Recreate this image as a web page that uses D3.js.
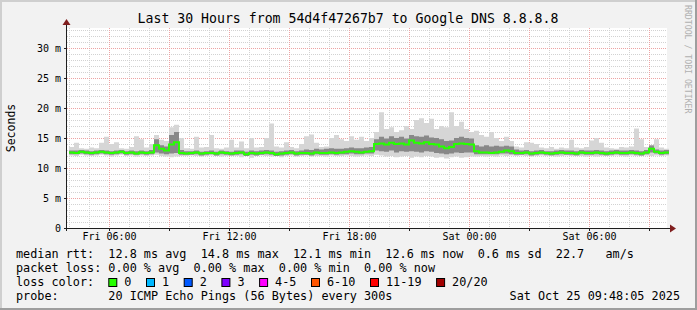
<!DOCTYPE html>
<html><head><meta charset="utf-8">
<script src="https://cdn.jsdelivr.net/npm/d3@7"></script>
<style>
body{margin:0;background:#f2f2f2}
svg{display:block}
text{font-family:"DejaVu Sans Mono",monospace;white-space:pre}
</style>
</head><body><svg id="c" width="697" height="310"></svg>
<script>
// ---------- data ----------
const title = "Last 30 Hours from 54d4f47267b7 to Google DNS 8.8.8.8";
const yLabel = "Seconds";
const watermark = "RRDTOOL / TOBI OETIKER";
const rangeStart = new Date(2025, 9, 24, 3, 54);
const rangeEnd = new Date(2025, 9, 25, 9, 54);
const dataStart = new Date(2025, 9, 24, 4, 0);
const stepMinutes = 15;

// median rtt (ms), one value per 15 minutes from Fri 04:00
const median = [
12.6,12.5,12.7,12.6,12.5,12.6,12.7,12.6,12.5,12.6,12.7,12.5,12.6,12.4,12.6,12.5,12.6,
13.8,13.2,12.9,13.9,14.3,12.5,
12.4,12.5,12.6,12.4,12.5,12.5,12.4,12.6,12.5,12.4,12.5,12.6,12.3,12.5,12.4,12.5,12.6,12.5,12.3,12.4,12.5,12.6,12.4,12.5,12.5,12.4,12.6,12.5,12.5,12.6,12.5,
12.6,12.7,12.8,12.7,12.6,12.7,12.8,
14.0,14.1,13.9,14.2,14.0,14.1,13.9,14.6,14.2,14.1,14.3,14.0,13.9,13.6,13.3,13.5,14.0,14.1,14.0,13.9,
12.8,12.6,12.6,12.5,12.6,12.7,12.9,12.8,12.5,
12.5,12.6,12.4,12.5,12.6,12.5,12.4,12.5,12.6,12.5,12.5,12.4,12.6,12.5,12.5,12.6,12.5,12.4,12.5,12.6,12.5,12.5,12.6,12.5,12.4,12.6,13.2,12.7,12.5,12.6
];
// smoke: fastest ping (ms)
const pingMin = [
12.1,12.0,12.2,12.1,12.0,12.1,12.2,12.1,11.9,12.1,12.2,12.0,12.1,11.9,12.1,12.0,12.1,
12.2,12.0,11.9,11.8,11.9,12.0,
12.0,12.1,12.0,11.9,12.0,12.1,12.0,11.9,12.0,12.1,12.0,11.8,12.0,11.7,12.0,12.1,12.0,11.9,12.0,11.8,12.0,12.1,11.9,12.0,12.1,11.9,12.0,12.0,11.9,12.1,12.0,
12.0,12.1,12.0,11.9,12.0,12.1,12.0,
12.2,12.1,11.9,12.0,11.8,11.9,12.0,11.7,11.9,11.8,12.0,11.9,11.7,11.8,11.6,11.8,11.9,11.7,11.8,11.9,
11.9,12.0,11.9,12.0,11.9,12.1,12.0,12.1,12.0,
12.1,12.0,11.9,12.0,12.1,12.0,12.1,11.9,12.0,12.1,12.0,12.1,12.0,11.9,12.0,11.9,12.0,12.1,12.0,12.1,12.0,11.9,12.1,12.0,12.0,12.1,12.0,12.1,12.0,12.1
];
// smoke: slowest ping (ms)
const pingMax = [
13.5,14.2,13.3,13.2,13.4,13.3,14.2,15.2,14.0,14.3,13.3,13.2,13.5,15.3,14.8,13.4,14.0,
15.5,14.7,14.5,16.8,17.2,15.0,
13.3,13.2,15.2,13.4,13.5,15.5,13.3,13.2,13.4,14.7,13.4,14.4,13.3,15.0,13.4,13.5,15.0,17.4,13.6,13.4,14.3,13.5,13.3,14.0,15.3,15.6,14.2,13.5,13.6,15.0,15.5,
14.8,14.5,15.3,14.7,15.2,14.5,15.0,
16.0,19.3,16.5,16.8,16.0,16.3,17.0,16.5,18.0,18.3,17.5,18.2,16.5,17.0,16.8,19.3,17.0,17.7,16.5,16.0,
16.2,15.5,15.2,16.0,15.0,14.5,15.2,14.5,13.6,
13.4,14.3,14.2,14.0,13.4,13.3,13.5,13.2,13.4,13.3,14.7,13.4,13.3,13.5,14.6,15.0,14.2,13.4,13.3,13.2,13.5,13.4,13.6,16.6,14.8,13.5,13.6,14.8,13.4,13.2
];
// smoke: inner (dense) band, low and high edge (ms)
const innerLow = [
12.3,12.3,12.4,12.3,12.2,12.3,12.4,12.3,12.2,12.3,12.4,12.2,12.3,12.2,12.3,12.2,12.3,
12.6,12.4,12.3,12.4,12.5,12.2,
12.2,12.2,12.3,12.1,12.2,12.3,12.1,12.3,12.2,12.1,12.2,12.3,12.0,12.2,12.1,12.2,12.3,12.2,12.0,12.1,12.2,12.3,12.1,12.2,12.2,12.1,12.3,12.2,12.2,12.3,12.2,
12.3,12.3,12.4,12.3,12.3,12.4,12.4,
12.9,12.8,12.7,12.9,12.6,12.8,12.7,12.8,12.7,12.6,12.8,12.7,12.5,12.4,12.3,12.4,12.6,12.5,12.6,12.6,
12.3,12.3,12.3,12.3,12.3,12.4,12.4,12.3,12.2,
12.2,12.3,12.1,12.2,12.3,12.2,12.1,12.2,12.3,12.2,12.2,12.1,12.3,12.2,12.2,12.3,12.2,12.1,12.2,12.3,12.2,12.2,12.3,12.2,12.1,12.3,12.6,12.4,12.2,12.3
];
const innerHigh = [
12.9,12.9,13.0,12.9,12.8,12.9,13.0,12.9,12.8,12.9,13.0,12.8,12.9,12.8,12.9,12.8,13.0,
14.8,13.8,13.6,15.5,16.0,13.0,
12.8,12.8,12.9,12.7,12.8,12.9,12.7,12.9,12.8,12.7,12.9,12.9,12.7,12.9,12.8,12.9,13.0,12.9,12.7,12.8,12.9,13.0,12.8,12.9,13.1,13.0,13.2,13.1,13.2,13.3,13.2,
13.2,13.3,13.4,13.3,13.3,13.4,13.5,
14.8,15.2,14.9,15.3,15.0,15.2,14.9,15.5,15.3,15.2,15.4,15.1,15.0,14.8,14.5,14.6,15.0,15.2,15.0,14.9,
13.8,13.6,13.8,13.6,13.7,13.6,13.7,13.6,13.1,
12.9,13.0,12.8,12.9,13.0,12.8,12.8,12.9,13.0,12.9,12.9,12.8,13.0,12.9,12.9,13.0,12.9,12.8,12.9,13.0,12.9,12.9,13.0,12.9,12.8,13.0,13.8,13.1,12.9,13.0
];

const yTickValues = [0, 5, 10, 15, 20, 25, 30];
const yTickLabels = ["0", "5 m", "10 m", "15 m", "20 m", "25 m", "30 m"];
const lossLabels = ["0", "1", "2", "3", "4-5", "6-10", "11-19", "20/20"];
const lossColors = ["#26ff00", "#00b8ff", "#0059ff", "#7e00ff", "#ff00ff", "#ff5500", "#ff0000", "#a10000"];
const legendLines = [
  "median rtt:  12.8 ms avg  14.8 ms max  12.1 ms min  12.6 ms now  0.6 ms sd  22.7   am/s",
  "packet loss: 0.00 % avg  0.00 % max  0.00 % min  0.00 % now",
  "loss color:",
  "probe:       20 ICMP Echo Pings (56 Bytes) every 300s"
];
const dateStamp = "Sat Oct 25 09:48:05 2025";

// ---------- drawing ----------
const svg = d3.select("#c");
const W = 697, H = 310;
const plot = {left: 67, right: 667, top: 28, bottom: 228};

// background & frame
svg.append("rect").attr("width", W).attr("height", H).attr("fill", "#f2f2f2");
svg.append("path").attr("d", `M0,${H} V0 H${W}`).attr("stroke", "#cfcfcf").attr("stroke-width", 4).attr("fill", "none");
svg.append("path").attr("d", `M0,${H} H${W} V0`).attr("stroke", "#9e9e9e").attr("stroke-width", 4).attr("fill", "none");
svg.append("rect").attr("x", plot.left).attr("y", plot.top)
  .attr("width", plot.right - plot.left).attr("height", plot.bottom - plot.top).attr("fill", "#ffffff");

const x = d3.scaleTime().domain([rangeStart, rangeEnd]).range([plot.left, plot.right]);
const y = d3.scaleLinear().domain([0, 200 / 6]).range([plot.bottom, plot.top]);

const times = median.map((_, i) => d3.timeMinute.offset(dataStart, i * stepMinutes));
const rows = median.map((m, i) => ({t: times[i], med: m, lo: pingMin[i], hi: pingMax[i], il: innerLow[i], ih: innerHigh[i]}));
const last = rows[rows.length - 1];
rows.push({...last, t: d3.timeMinute.offset(last.t, stepMinutes)});

// grid
const g = svg.append("g").attr("shape-rendering", "crispEdges");
const minorY = d3.range(1, 34).filter(v => v % 5 !== 0);
g.selectAll(".hmin").data(minorY).join("line")
  .attr("x1", plot.left).attr("x2", plot.right)
  .attr("y1", d => Math.round(y(d)) + 0.5).attr("y2", d => Math.round(y(d)) + 0.5)
  .attr("stroke", "#d2d2d2").attr("stroke-dasharray", "1,1");
const hours = d3.timeHour.range(rangeStart, rangeEnd);
g.selectAll(".vmin").data(hours.filter(h => h.getHours() % 3 !== 0)).join("line")
  .attr("x1", d => Math.round(x(d)) + 0.5).attr("x2", d => Math.round(x(d)) + 0.5)
  .attr("y1", plot.top).attr("y2", plot.bottom)
  .attr("stroke", "#d2d2d2").attr("stroke-dasharray", "1,1");
g.selectAll(".hmaj").data(yTickValues.slice(1)).join("line")
  .attr("x1", plot.left).attr("x2", plot.right)
  .attr("y1", d => Math.round(y(d)) + 0.5).attr("y2", d => Math.round(y(d)) + 0.5)
  .attr("stroke", "#eda3a3").attr("stroke-dasharray", "1,1");
const majorHours = hours.filter(h => h.getHours() % 3 === 0);
g.selectAll(".vmaj").data(majorHours).join("line")
  .attr("x1", d => Math.round(x(d)) + 0.5).attr("x2", d => Math.round(x(d)) + 0.5)
  .attr("y1", plot.top).attr("y2", plot.bottom)
  .attr("stroke", "#eda3a3").attr("stroke-dasharray", "1,1");

// smoke
const outer = d3.area().curve(d3.curveStepAfter).x(d => x(d.t)).y0(d => y(d.lo)).y1(d => y(d.hi));
const inner = d3.area().curve(d3.curveStepAfter).x(d => x(d.t)).y0(d => y(d.il)).y1(d => y(d.ih));
svg.append("path").datum(rows).attr("d", outer).attr("fill", "#d6d6d6");
svg.append("path").datum(rows).attr("d", inner).attr("fill", "#6e6e6e").attr("fill-opacity", 0.75);

// median line
const line = d3.line().curve(d3.curveStepAfter).x(d => x(d.t)).y(d => y(d.med));
svg.append("path").datum(rows).attr("d", line).attr("fill", "none")
  .attr("stroke", lossColors[0]).attr("stroke-width", 2);

// axes
const ax = svg.append("g").attr("shape-rendering", "crispEdges");
ax.append("line").attr("x1", plot.left - 3).attr("x2", plot.right + 3)
  .attr("y1", plot.bottom + 0.5).attr("y2", plot.bottom + 0.5).attr("stroke", "#1f1f1f");
ax.append("line").attr("x1", plot.left - 0.5).attr("x2", plot.left - 0.5)
  .attr("y1", plot.bottom + 3).attr("y2", plot.top - 3).attr("stroke", "#1f1f1f");
ax.selectAll(".yt").data(yTickValues).join("line")
  .attr("x1", plot.left - 3).attr("x2", plot.left)
  .attr("y1", d => Math.round(y(d)) + 0.5).attr("y2", d => Math.round(y(d)) + 0.5).attr("stroke", "#1f1f1f");
ax.selectAll(".xt").data(majorHours).join("line")
  .attr("x1", d => Math.round(x(d)) + 0.5).attr("x2", d => Math.round(x(d)) + 0.5)
  .attr("y1", plot.bottom).attr("y2", plot.bottom + 3).attr("stroke", "#1f1f1f");
svg.append("path").attr("d", `M${plot.right + 3},${plot.bottom - 3.5} L${plot.right + 9},${plot.bottom + 0.5} L${plot.right + 3},${plot.bottom + 4.5} Z`).attr("fill", "#801f1f");
svg.append("path").attr("d", `M${plot.left - 4.5},${plot.top - 3} L${plot.left - 0.5},${plot.top - 9} L${plot.left + 3.5},${plot.top - 3} Z`).attr("fill", "#801f1f");

// tick labels
svg.selectAll(".yl").data(yTickValues).join("text")
  .attr("x", plot.left - 6).attr("y", d => y(d) + 3.5).attr("text-anchor", "end")
  .attr("font-size", 10).text((d, i) => yTickLabels[i]);
const fmt = d3.timeFormat("%a %H:%M");
svg.selectAll(".xl").data(hours.filter(h => h.getHours() % 6 === 0)).join("text")
  .attr("x", d => x(d) + 0.5).attr("y", 240).attr("text-anchor", "middle")
  .attr("font-size", 10).text(d => fmt(d));

// title, axis label, watermark
svg.append("text").attr("x", 348).attr("y", 23).attr("text-anchor", "middle")
  .attr("font-size", 13.2).text(title);
svg.append("text").attr("transform", "translate(15,128) rotate(-90)").attr("text-anchor", "middle")
  .attr("font-size", 11.5).text(yLabel);
svg.append("text").attr("transform", "translate(685,5) rotate(90)")
  .attr("font-size", 8.2).attr("fill", "#b0b0b0").text(watermark);

// legend
const lineY = [258, 272, 285.7, 299.5];
const charW = 7.1;
const legendFont = 11.8;
legendLines.forEach((s, i) => {
  svg.append("text").attr("x", 16).attr("y", lineY[i]).attr("font-size", legendFont).text(s);
});
let bx = 16 + 13 * charW;
lossLabels.forEach((lab, i) => {
  svg.append("rect").attr("x", bx + 0.5).attr("y", 278.5).attr("width", 8).attr("height", 8)
    .attr("fill", lossColors[i]).attr("stroke", "#000").attr("stroke-width", 1);
  svg.append("text").attr("x", bx + 16).attr("y", lineY[2]).attr("font-size", legendFont).text(lab);
  bx = bx + 16 + lab.length * charW + 14.6;
});
svg.append("text").attr("x", 680).attr("y", lineY[3]).attr("text-anchor", "end")
  .attr("font-size", legendFont).text(dateStamp);
</script>
</body></html>
